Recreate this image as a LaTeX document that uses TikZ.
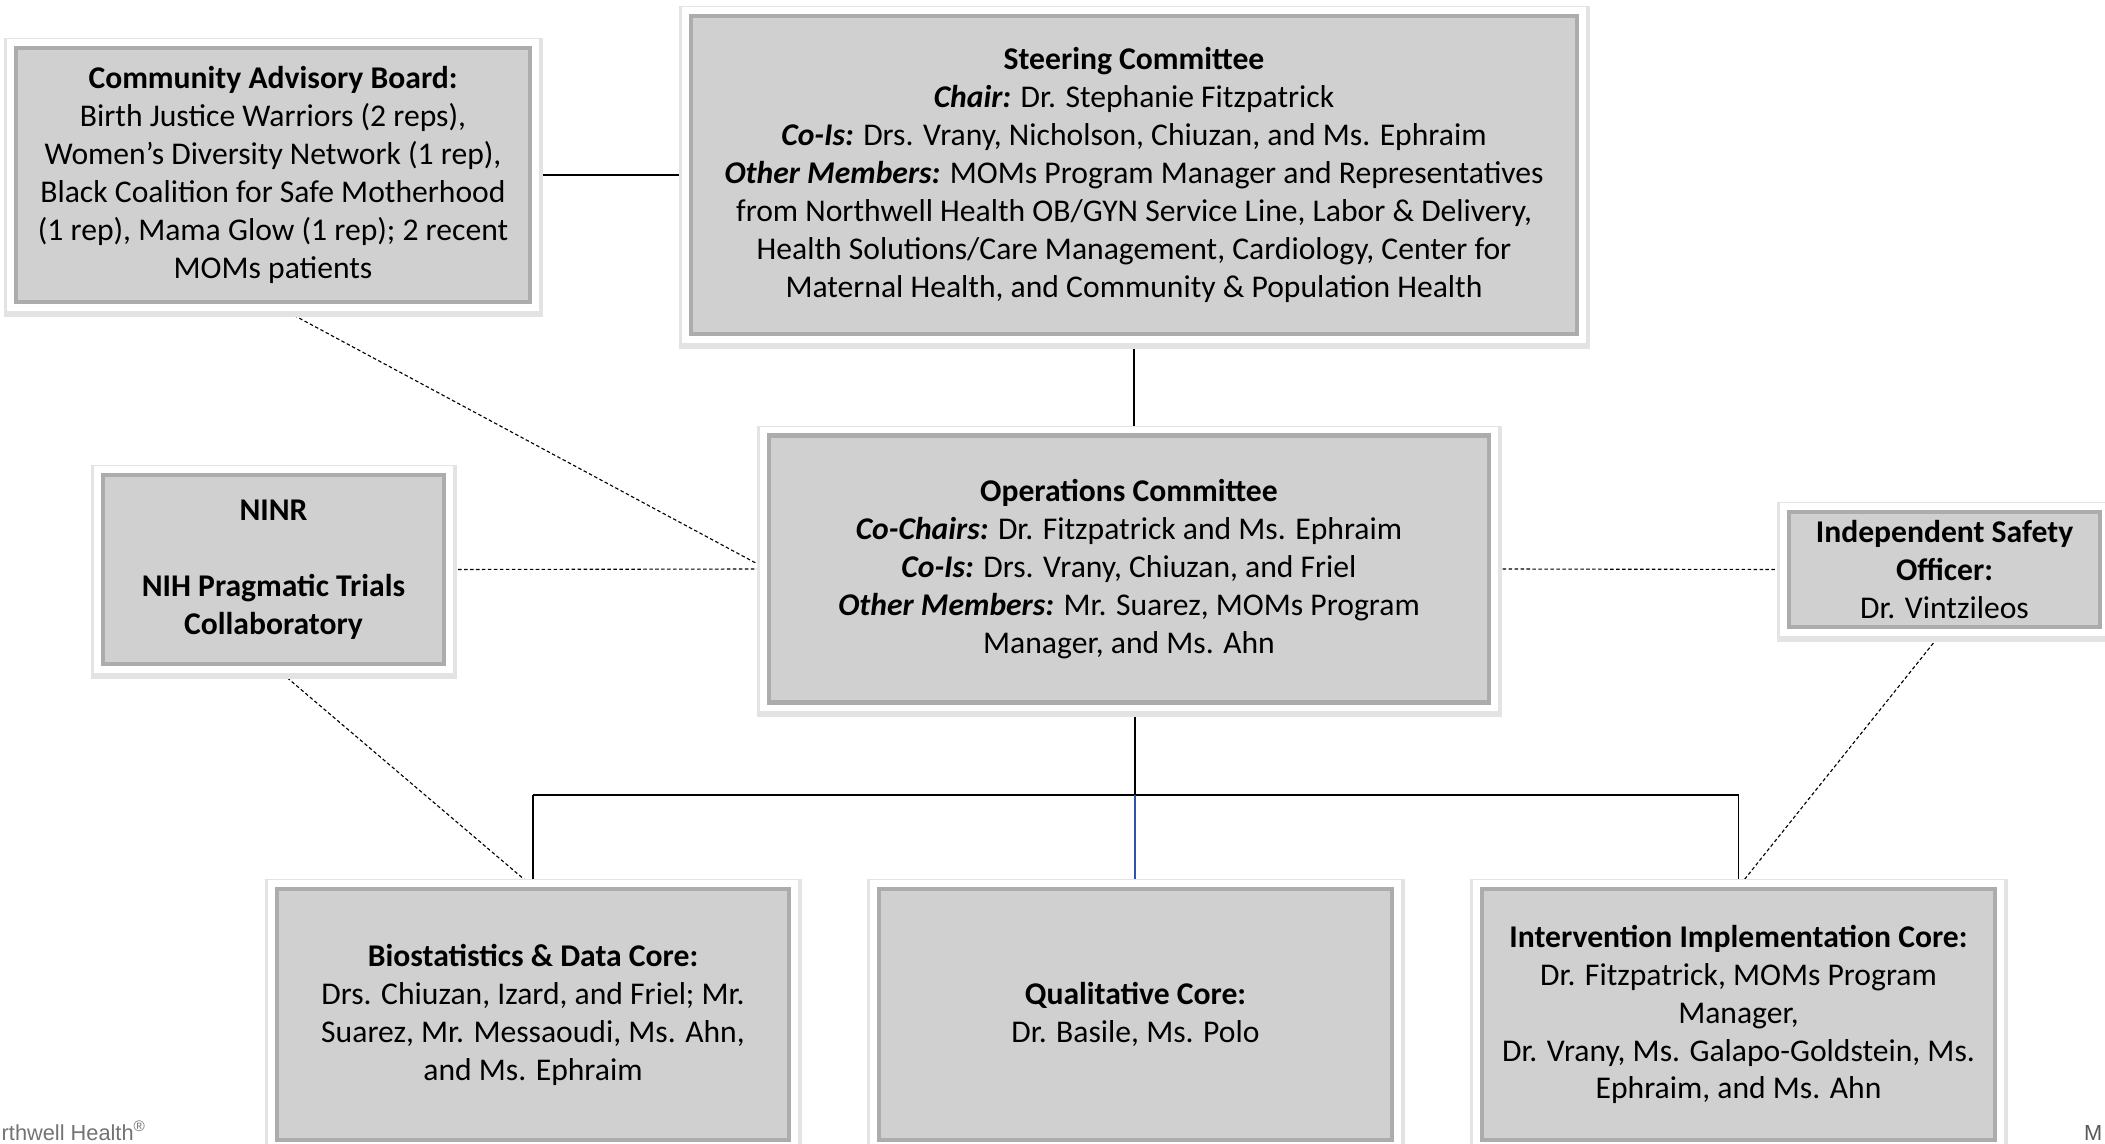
\documentclass[tikz,border=0pt]{standalone}
\usepackage{fontspec}
\setmainfont{Carlito}
\newfontfamily\footfont{Liberation Sans}
\usetikzlibrary{backgrounds}

\definecolor{boxgray}{RGB}{208,208,208}
\definecolor{bevelgray}{RGB}{172,172,172}
\definecolor{linkblue}{RGB}{47,85,170}

\tikzset{
    orgbox/.style={draw=bevelgray, line width=1.2pt, fill=boxgray, inner sep=0pt, align=center,
        font=\fontsize{9pt}{10.8pt}\selectfont,
        preaction={draw=black!11, line width=7pt, transform canvas={xshift=0.2pt,yshift=-0.7pt}},
        preaction={draw=white, line width=5pt}},
    link/.style={line width=0.4pt},
    dashlink/.style={line width=0.32pt, dash pattern=on 1pt off 0.7pt}
}

\begin{document}
\begin{tikzpicture}
    \useasboundingbox (0,0) rectangle (21.05,11.43);
    \clip (0,0) rectangle (21.05,11.43);

    % Nodes for the committees
    \node[orgbox, minimum width=5.14cm, minimum height=2.54cm] (cab) at (2.73,9.68)
        {\textbf{Community Advisory Board:}\\ Birth Justice Warriors (2 reps),\\ Women’s Diversity Network (1 rep),\\ Black Coalition for Safe Motherhood\\ (1 rep), Mama Glow (1 rep); 2 recent\\ MOMs patients};
    \node[orgbox, minimum width=8.86cm, minimum height=3.18cm] (steer) at (11.34,9.68)
        {\textbf{Steering Committee}\\ \textbf{\textit{Chair:}} Dr. Stephanie Fitzpatrick\\ \textbf{\textit{Co-Is:}} Drs. Vrany, Nicholson, Chiuzan, and Ms. Ephraim\\ \textbf{\textit{Other Members:}} MOMs Program Manager and Representatives\\ from Northwell Health OB/GYN Service Line, Labor \& Delivery,\\ Health Solutions/Care Management, Cardiology, Center for\\ Maternal Health, and Community \& Population Health};
    \node[orgbox, minimum width=7.20cm, minimum height=2.67cm] (ops) at (11.29,5.74)
        {\textbf{Operations Committee}\\ \textbf{\textit{Co-Chairs:}} Dr. Fitzpatrick and Ms. Ephraim\\ \textbf{\textit{Co-Is:}} Drs. Vrany, Chiuzan, and Friel\\ \textbf{\textit{Other Members:}} Mr. Suarez, MOMs Program\\ Manager, and Ms. Ahn};

    % Nodes for the outside partners
    \node[orgbox, minimum width=3.41cm, minimum height=1.89cm] (ninr) at (2.735,5.735)
        {\textbf{NINR}\\[10.8pt] \textbf{NIH Pragmatic Trials}\\ \textbf{Collaboratory}};
    \node[orgbox, minimum width=3.11cm, minimum height=1.15cm] (iso) at (19.445,5.735)
        {\textbf{Independent Safety}\\ \textbf{Officer:}\\ Dr. Vintzileos};

    % Nodes for the cores
    \node[orgbox, minimum width=5.12cm, minimum height=2.51cm] (bio) at (5.33,1.285)
        {\textbf{Biostatistics \& Data Core:}\\ Drs. Chiuzan, Izard, and Friel; Mr.\\ Suarez, Mr. Messaoudi, Ms. Ahn,\\ and Ms. Ephraim};
    \node[orgbox, minimum width=5.13cm, minimum height=2.51cm] (qual) at (11.355,1.285)
        {\textbf{Qualitative Core:}\\ Dr. Basile, Ms. Polo};
    \node[orgbox, minimum width=5.13cm, minimum height=2.51cm] (iic) at (17.385,1.285)
        {\textbf{Intervention Implementation Core:}\\ Dr. Fitzpatrick, MOMs Program\\ Manager,\\ Dr. Vrany, Ms. Galapo-Goldstein, Ms.\\ Ephraim, and Ms. Ahn};

    % Footer bits at the lower edge
    \node[font=\footfont\fontsize{6.2pt}{7pt}\selectfont, text=black!55, anchor=base west, inner sep=0pt] (foot) at (0.01,0.03) {rthwell Health\textsuperscript{®}};
    \node[font=\footfont\fontsize{6.2pt}{7pt}\selectfont, text=black!65, anchor=base east, inner sep=0pt] (mark) at (21.03,0.03) {M};

    \coordinate (hub) at (11.35,3.48);

    \begin{scope}[on background layer]
        % Solid links
        \draw[link] (cab.east) -- (steer.west);
        \draw[link] (steer.south) -- (steer.south |- ops.north);
        \draw[link] (hub |- ops.south) -- (hub);
        \draw[link] (bio.north |- hub) -- (iic.north |- hub);
        \draw[link] (bio.north |- hub) -- (bio.north);
        \draw[link, linkblue] (hub) -- (hub |- qual.north);
        \draw[link] (iic.north |- hub) -- (iic.north);

        % Dashed links
        \draw[dashlink] (cab.south) -- (ops.west);
        \draw[dashlink] (ninr.east) -- (ops.west);
        \draw[dashlink] (iso.west) -- (ops.east);
        \draw[dashlink] (ninr.south) -- (bio.north);
        \draw[dashlink] (iso.south) -- (iic.north);
    \end{scope}
\end{tikzpicture}
\end{document}
